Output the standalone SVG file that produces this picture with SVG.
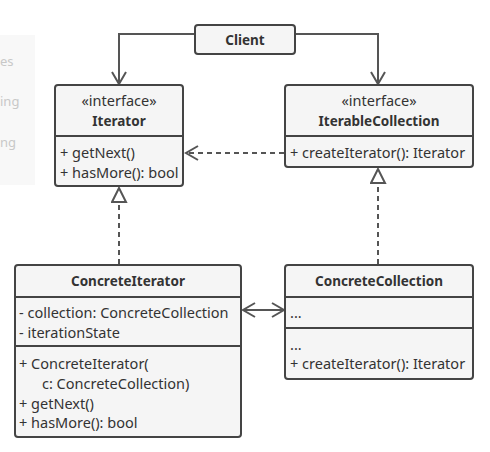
<svg xmlns="http://www.w3.org/2000/svg" width="490" height="452" viewBox="0 0 490 452">
<style>
.box{fill:#f5f5f5;stroke:#444;stroke-width:2}
.sep{stroke:#444;stroke-width:2}
text{font-family:"Noto Sans","Open Sans",sans-serif;font-size:14.5px;fill:#333}
.b{font-weight:bold;font-size:13.5px}
.c{text-anchor:middle}
.ln{fill:none;stroke:#555;stroke-width:2}
.d{stroke-dasharray:5,4}
.bg{fill:#c8c8c8;font-size:13px}
</style>
<defs>
<marker id="open" markerWidth="16" markerHeight="16" refX="13" refY="8" orient="auto" markerUnits="userSpaceOnUse">
<path d="M1,1 L13,8 L1,15" fill="none" stroke="#555" stroke-width="2"/>
</marker>
<marker id="openS" markerWidth="16" markerHeight="16" refX="13" refY="8" orient="auto-start-reverse" markerUnits="userSpaceOnUse">
<path d="M1,1 L13,8 L1,15" fill="none" stroke="#555" stroke-width="2"/>
</marker>
<marker id="tri" markerWidth="18" markerHeight="18" refX="15" refY="8" orient="auto" markerUnits="userSpaceOnUse">
<path d="M1,1 L15,8 L1,15 Z" fill="#fff" stroke="#555" stroke-width="2"/>
</marker>
</defs>
<g id="background">
<rect x="0" y="35" width="35" height="150" fill="#f8f8f8"/>
<text x="0" y="66" class="bg">es</text>
<text x="0" y="106" class="bg">ing</text>
<text x="0" y="147" class="bg">ng</text>
</g>
<g id="connectors">
<path class="ln" d="M195,34 H119 V84" marker-end="url(#open)"/>
<path class="ln" d="M295,34 H378 V84" marker-end="url(#open)"/>
<path class="ln d" d="M284,153 H186" marker-end="url(#open)"/>
<path class="ln d" d="M119,264 V188" marker-end="url(#tri)"/>
<path class="ln d" d="M378,264 V169" marker-end="url(#tri)"/>
<path class="ln" d="M243,310 H284" marker-start="url(#openS)" marker-end="url(#openS)"/>
</g>
<g id="client">
<rect class="box" x="195" y="25" width="100" height="29" rx="3"/>
<text x="245" y="45" class="b c">Client</text>
</g>
<g id="iterator">
<rect class="box" x="55" y="85" width="128" height="101" rx="3"/>
<line class="sep" x1="55" y1="136" x2="183" y2="136"/>
<text x="119" y="106" class="c">«interface»</text>
<text x="119" y="126" class="b c">Iterator</text>
<text x="60" y="158">+ getNext()</text>
<text x="60" y="178">+ hasMore(): bool</text>
</g>
<g id="iterableCollection">
<rect class="box" x="285" y="85" width="188" height="82" rx="3"/>
<line class="sep" x1="285" y1="136" x2="473" y2="136"/>
<text x="379" y="106" class="c">«interface»</text>
<text x="379" y="126" class="b c">IterableCollection</text>
<text x="290" y="158">+ createIterator(): Iterator</text>
</g>
<g id="concreteIterator">
<rect class="box" x="15" y="265" width="226" height="172" rx="3"/>
<line class="sep" x1="15" y1="297" x2="241" y2="297"/>
<line class="sep" x1="15" y1="346" x2="241" y2="346"/>
<text x="128" y="286" class="b c">ConcreteIterator</text>
<text x="19" y="318">- collection: ConcreteCollection</text>
<text x="19" y="338">- iterationState</text>
<text x="19" y="369">+ ConcreteIterator(</text>
<text x="42" y="389">c: ConcreteCollection)</text>
<text x="19" y="409">+ getNext()</text>
<text x="19" y="428">+ hasMore(): bool</text>
</g>
<g id="concreteCollection">
<rect class="box" x="285" y="265" width="188" height="114" rx="3"/>
<line class="sep" x1="285" y1="297" x2="473" y2="297"/>
<line class="sep" x1="285" y1="328" x2="473" y2="328"/>
<text x="379" y="286" class="b c">ConcreteCollection</text>
<text x="290" y="318">...</text>
<text x="290" y="350">...</text>
<text x="290" y="369">+ createIterator(): Iterator</text>
</g>
</svg>
